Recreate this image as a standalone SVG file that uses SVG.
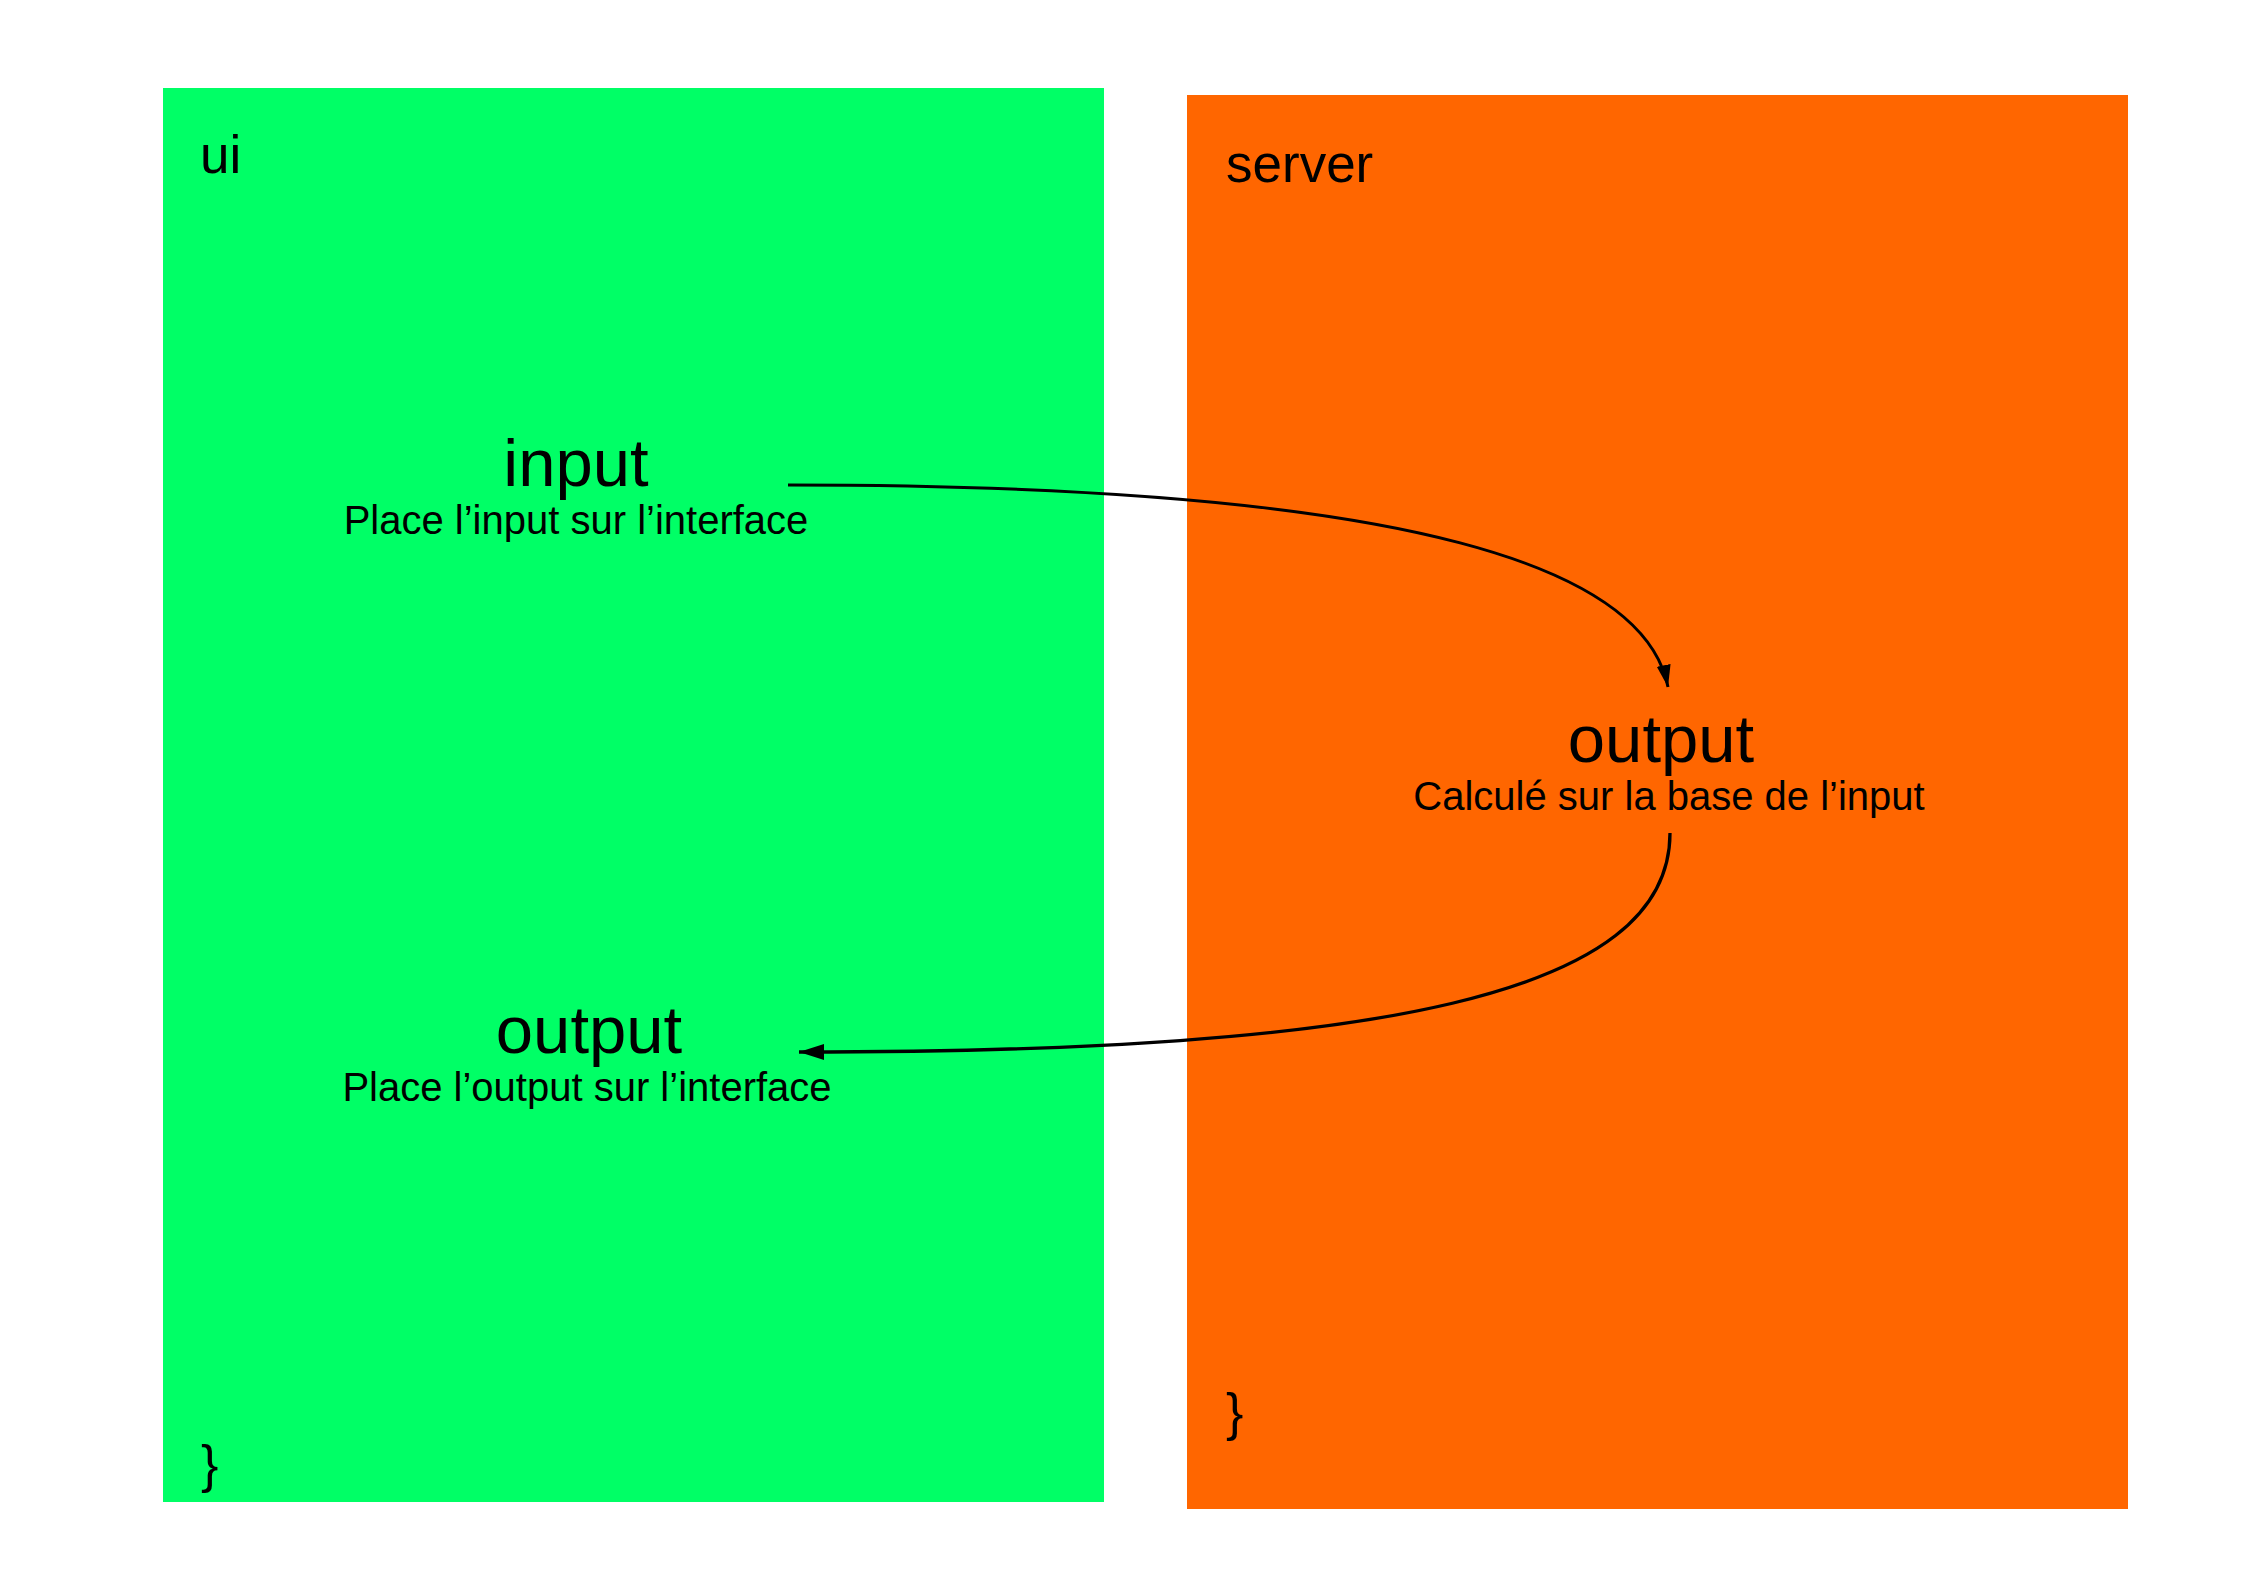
<svg xmlns="http://www.w3.org/2000/svg" width="2245" height="1588" viewBox="0 0 2245 1588">
<style>
text{font-family:"Liberation Sans",Arial,sans-serif;fill:#000}
.panel{font-size:53px}
.big{font-size:67px;text-anchor:middle}
.small{font-size:40px;text-anchor:middle}
.brace{font-size:52px}
.conn{fill:none;stroke:#000}
</style>
<defs>
<marker id="ah1" markerUnits="userSpaceOnUse" markerWidth="24" markerHeight="16" refX="22" refY="7" orient="auto">
<path d="M0,0 L22,7 L0,14 Z" fill="#000"/>
</marker>
<marker id="ah2" markerUnits="userSpaceOnUse" markerWidth="28" markerHeight="18" refX="25" refY="8" orient="auto">
<path d="M0,0 L25,8 L0,16 Z" fill="#000"/>
</marker>
</defs>
<rect width="2245" height="1588" fill="#fff"/>
<g id="ui">
<rect x="163" y="88" width="941" height="1414" fill="#00FF66"/>
<text class="panel" x="200" y="173">ui</text>
<text class="brace" x="201" y="1482">}</text>
</g>
<g id="server">
<rect x="1187" y="95" width="941" height="1414" fill="#FF6600"/>
<text class="panel" x="1226" y="182">server</text>
<text class="brace" x="1226" y="1430">}</text>
</g>
<g id="ui-input">
<text class="big" x="576" y="486">input</text>
<text class="small" x="576" y="534">Place l’input sur l’interface</text>
</g>
<g id="server-output">
<text class="big" x="1661" y="762">output</text>
<text class="small" x="1669" y="810">Calculé sur la base de l’input</text>
</g>
<g id="ui-output">
<text class="big" x="589" y="1053">output</text>
<text class="small" x="587" y="1101">Place l’output sur l’interface</text>
</g>
<g id="connectors">
<path class="conn" stroke-width="3" d="M788,485 C1430,485 1645,572 1668,687" marker-end="url(#ah1)"/>
<path class="conn" stroke-width="3.3" d="M1670,833 C1670,995 1380,1052 799,1052" marker-end="url(#ah2)"/>
</g>
</svg>
